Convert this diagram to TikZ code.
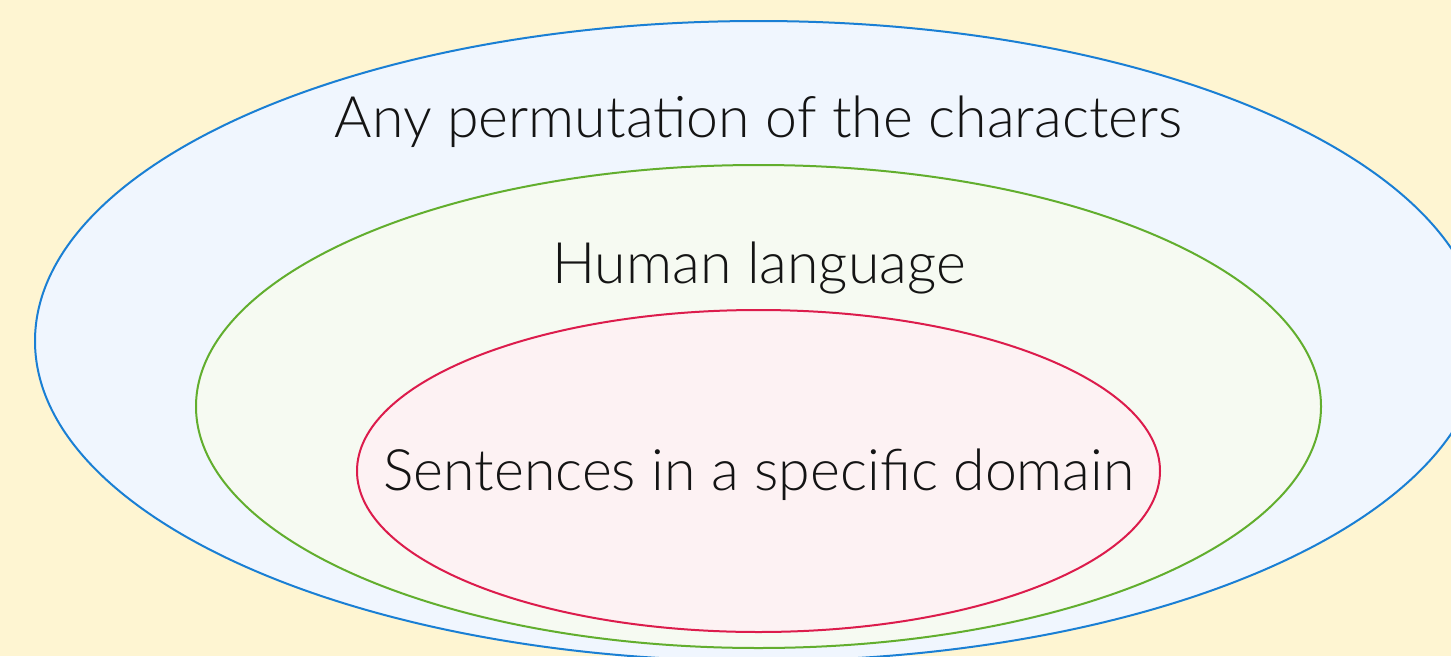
\documentclass[tikz,border=0pt]{standalone}
\usepackage{fontspec}
\setmainfont{Lato}[UprightFont=* Light]
\usetikzlibrary{shapes.geometric}
\definecolor{bgcream}{HTML}{FEF5D2}
\definecolor{bluestroke}{HTML}{1A7FD4}
\definecolor{bluefill}{HTML}{F0F6FE}
\definecolor{greenstroke}{HTML}{62AE2E}
\definecolor{greenfill}{HTML}{F6FAF2}
\definecolor{redstroke}{HTML}{DC1C4C}
\definecolor{redfill}{HTML}{FDF2F3}
\tikzset{
  setshape/.style={ellipse, inner sep=0pt, line width=2pt},
  setlabel/.style={anchor=base, inner sep=0pt, font=\fontsize{57.2}{66}\selectfont, text=black!92}
}
\begin{document}
\begin{tikzpicture}[x=1pt, y=-1pt]
\useasboundingbox (0,0) rectangle (1451,656);
\clip (0,0) rectangle (1451,656);
\fill[bgcream] (0,0) rectangle (1451,656);
\node[setshape, draw=bluestroke, fill=bluefill, minimum width=1447pt, minimum height=640pt] (outer) at (758.5,341) {};
\node[setshape, draw=greenstroke, fill=greenfill, minimum width=1125pt, minimum height=483pt] (middle) at (758.5,406.5) {};
\node[setshape, draw=redstroke, fill=redfill, minimum width=803pt, minimum height=322pt] (inner) at (758.5,471) {};
\node[setlabel] (outerlabel) at (758.5,137) {Any permutation of the characters};
\node[setlabel] (middlelabel) at (759,283) {Human language};
\node[setlabel] (innerlabel) at (759,490) {Sentences in a specific domain};
\end{tikzpicture}
\end{document}
